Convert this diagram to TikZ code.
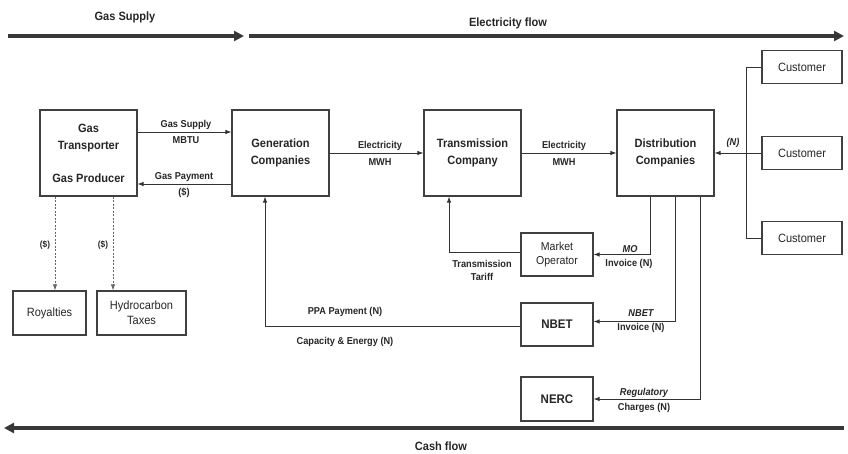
\documentclass[tikz,border=0pt]{standalone}
\usepackage{fontspec}
\setmainfont[FakeStretch=0.92]{Liberation Sans}
\usetikzlibrary{arrows.meta}
\begin{document}
\begin{tikzpicture}[x=1pt,y=-1pt,
  ink/.style={text=black!85},
  box/.style={draw=black!75,line width=1.1pt,fill=white,align=center,inner sep=0pt,ink},
  mainbox/.style={box,minimum width=97pt,minimum height=86pt,font=\fontsize{12}{17}\selectfont\bfseries},
  custbox/.style={box,minimum width=80pt,minimum height=33pt,font=\fontsize{12}{15}\selectfont},
  sidebox/.style={box,minimum width=72pt,minimum height=43pt},
  conn/.style={draw=black!80,line width=0.9pt,-{Latex[length=6pt,width=4.5pt]}},
  dconn/.style={conn,dashed,dash pattern=on 2pt off 1.5pt,draw=black!60},
  plain/.style={draw=black!80,line width=0.9pt},
  flow/.style={draw=black!78,line width=4pt,-{Triangle[length=10pt,width=10pt]}},
  lbl/.style={ink,inner sep=0pt,font=\fontsize{10}{12}\selectfont\bfseries},
  ilbl/.style={lbl,font=\fontsize{10}{12}\selectfont\bfseries\itshape},
  flbl/.style={ink,inner sep=0pt,font=\fontsize{12}{14}\selectfont\bfseries}]
\useasboundingbox (0,0) rectangle (848,454);

% flow arrows along the top and bottom
\coordinate (gsA) at (8,36);   \coordinate (gsB) at (244,36);
\coordinate (efA) at (249,36); \coordinate (efB) at (844,36);
\coordinate (cfA) at (844,428); \coordinate (cfB) at (4,428);
\draw[flow] (gsA) -- (gsB);
\draw[flow] (efA) -- (efB);
\draw[flow] (cfA) -- (cfB);
\node[flbl] (tgs) at (125,17) {Gas Supply};
\node[flbl] (tef) at (508,23) {Electricity flow};
\node[flbl] (tcf) at (441,446) {Cash flow};

% main chain
\node[mainbox] (gas) at (88.5,153) {Gas\\Transporter\\[16pt]Gas Producer};
\node[mainbox] (gen) at (280.5,153) {Generation\\Companies};
\node[mainbox] (trn) at (472.5,153) {Transmission\\Company};
\node[mainbox] (dst) at (665.5,153) {Distribution\\Companies};

% customers
\node[custbox] (c1) at (802,67) {Customer};
\node[custbox] (c2) at (802,153) {Customer};
\node[custbox] (c3) at (802,238) {Customer};

% market bodies
\node[sidebox,font=\fontsize{11.5}{14}\selectfont] (mo) at (557,254.5) {Market\\Operator};
\node[sidebox,font=\fontsize{12.5}{14}\selectfont\bfseries] (nbet) at (557,324.5) {NBET};
\node[sidebox,minimum height=44pt,font=\fontsize{12.5}{14}\selectfont\bfseries] (nerc) at (557,399) {NERC};

% gas revenue recipients
\node[box,minimum width=73pt,minimum height=44pt,font=\fontsize{12}{15}\selectfont] (roy) at (49.5,313) {Royalties};
\node[box,minimum width=89pt,minimum height=44pt,font=\fontsize{12}{15}\selectfont] (hyd) at (141.5,313) {Hydrocarbon\\Taxes};

% gas exchange
\draw[conn] ([yshift=21pt]gas.east) -- ([yshift=21pt]gen.west);
\draw[conn] ([yshift=-31pt]gen.west) -- ([yshift=-31pt]gas.east);
\node[lbl] (l1) at (186,125) {Gas Supply};
\node[lbl] (l2) at (186,140) {MBTU};
\node[lbl] (l3) at (184,177) {Gas Payment};
\node[lbl] (l4) at (184,193) {(\$)};

% electricity
\draw[conn] (gen.east) -- (trn.west);
\draw[conn] (trn.east) -- (dst.west);
\node[lbl] (l5) at (380,146) {Electricity};
\node[lbl] (l6) at (380,162) {MWH};
\node[lbl] (l7) at (564,146) {Electricity};
\node[lbl] (l8) at (564,162) {MWH};

% customers to distribution
\draw[plain] (c1.west) -- ++(-15,0) |- (c3.west);
\draw[conn] (c2.west) -- (dst.east);
\node[ilbl] (l9) at (733,143) {(N)};

% dashed gas payments
\coordinate (d1) at ([xshift=-33.5pt]gas.south);
\coordinate (d2) at ([xshift=24.5pt]gas.south);
\draw[dconn] (d1) -- (d1 |- roy.north);
\draw[dconn] (d2) -- (d2 |- hyd.north);
\node[lbl,font=\fontsize{9}{11}\selectfont\bfseries] (l10) at (45,245) {(\$)};
\node[lbl,font=\fontsize{9}{11}\selectfont\bfseries] (l11) at (103,245) {(\$)};

% distribution payments
\draw[conn] ([xshift=-15.5pt]dst.south) |- (mo.east);
\draw[conn] ([yshift=2pt]mo.west) -| ([xshift=-23.5pt]trn.south);
\draw[conn] ([xshift=9.5pt]dst.south) |- ([yshift=3pt]nbet.east);
\draw[conn] ([xshift=34.5pt]dst.south) |- (nerc.east);
\draw[conn] ([yshift=-1.5pt]nbet.west) -| ([xshift=-15.5pt]gen.south);

\node[ilbl] (l12) at (630,249) {MO};
\node[lbl] (l13) at (629,264) {Invoice (N)};
\node[lbl] (l14) at (482,264) {Transmission};
\node[lbl] (l15) at (482,277) {Tariff};
\node[ilbl] (l16) at (641,313) {NBET};
\node[lbl] (l17) at (641,328) {Invoice (N)};
\node[ilbl] (l18) at (644,393) {Regulatory};
\node[lbl] (l19) at (644,408) {Charges (N)};
\node[lbl] (l20) at (345,312) {PPA Payment (N)};
\node[lbl] (l21) at (345,342) {Capacity \& Energy (N)};
\end{tikzpicture}
\end{document}
